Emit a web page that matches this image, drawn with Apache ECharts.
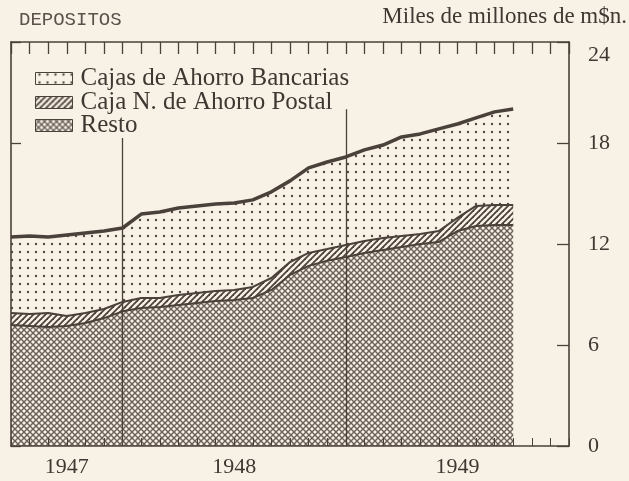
<!DOCTYPE html>
<html lang="es">
<head>
<meta charset="UTF-8">
<title>Depositos</title>
<script src="https://cdn.jsdelivr.net/npm/echarts@6/dist/echarts.min.js"></script>
<style>
    body{margin:0;background:#f8f1e6;}
    #main{width:629px;height:481px;}
</style>
</head>
<body>
<div id="main"></div>
<script>
// limites de mes: 1 jul 1947 .. 1 ene 1950 (31 marcas)
var limites = [];
for (var a = 1947; a <= 1950; a++) {
    for (var m = 1; m <= 12; m++) {
        if ((a === 1947 && m < 7) || (a === 1950 && m > 1)) continue;
        limites.push(a + '-' + (m < 10 ? '0' + m : m));
    }
}
// miles de millones de m$n., un valor por mes (jul 1947 .. oct 1949)
var resto = [7.19,7.13,7.07,7.13,7.31,7.6,8.0,8.2,8.26,8.38,8.5,8.62,8.67,8.79,9.27,10.16,10.7,11.0,11.23,11.47,11.65,11.82,12.0,12.12,12.77,13.07,13.13,13.13];
var postal = [0.71,0.71,0.83,0.59,0.59,0.54,0.56,0.59,0.53,0.59,0.59,0.59,0.6,0.66,0.71,0.77,0.77,0.7,0.71,0.71,0.71,0.66,0.6,0.65,0.78,1.19,1.19,1.19];
var bancarias = [4.52,4.64,4.52,4.82,4.76,4.63,4.39,4.99,5.11,5.17,5.17,5.17,5.17,5.17,5.12,4.82,5.05,5.17,5.23,5.41,5.52,5.88,5.94,6.07,5.58,5.23,5.53,5.7];

var yearPos = [3, 12, 24];
var yearNames = ['1947', '1948', '1949'];
var yearLines = [6, 18];        // 1 enero 1948, 1 enero 1949
var yearLineTop = [18.3, 20.0];

var bg = '#f8f1e6';
var ink = '#4a413a';
var txt = '#3f3832';
var serif = '"Liberation Serif", "DejaVu Serif", serif';

function pattern(size, draw) {
    var c = document.createElement('canvas');
    c.width = c.height = size;
    var ctx = c.getContext('2d');
    ctx.fillStyle = bg;
    ctx.fillRect(0, 0, size, size);
    draw(ctx, size);
    return {image: c, repeat: 'repeat'};
}
var dots = pattern(8, function (ctx) {
    ctx.fillStyle = '#544a42';
    ctx.beginPath();
    ctx.arc(4, 4, 1.2, 0, Math.PI * 2);
    ctx.fill();
});
var hatch = pattern(6, function (ctx, s) {
    ctx.strokeStyle = ink;
    ctx.lineWidth = 1.8;
    [-s, 0, s].forEach(function (o) {
        ctx.beginPath();
        ctx.moveTo(-2 + o, s + 2);
        ctx.lineTo(s + 2 + o, -2);
        ctx.stroke();
    });
});
var cross = pattern(6, function (ctx, s) {
    ctx.strokeStyle = '#6a625b';
    ctx.lineWidth = 1.4;
    [-s, 0, s].forEach(function (o) {
        ctx.beginPath();
        ctx.moveTo(-2 + o, -2);
        ctx.lineTo(s + 2 + o, s + 2);
        ctx.stroke();
        ctx.beginPath();
        ctx.moveTo(-2 + o, s + 2);
        ctx.lineTo(s + 2 + o, -2);
        ctx.stroke();
    });
});

var myChart = echarts.init(document.getElementById('main'));
var option = {
    backgroundColor: bg,
    animation: false,
    title: [{
        text: 'DEPOSITOS', left: 14, top: 5,
        textStyle: {fontFamily: '"Liberation Mono", monospace', fontSize: 19, fontWeight: 'normal', color: '#5a524b'}
    }, {
        text: 'Miles de millones de m$n.', right: 2, top: 5, padding: 0,
        textStyle: {fontFamily: serif, fontSize: 23, fontWeight: 'normal', color: txt}
    }],
    grid: {left: 11, right: 60, top: 42, bottom: 35},
    xAxis: [{
        type: 'category', position: 'bottom', data: limites, boundaryGap: false, z: 3,
        axisLine: {show: true, onZero: false, lineStyle: {color: ink, width: 1.6}},
        axisTick: {show: true, inside: true, interval: 0, length: 8, lineStyle: {color: ink, width: 1}},
        axisLabel: {
            show: true, interval: 0, margin: 10, fontFamily: serif, fontSize: 22, color: txt,
            formatter: function (v, i) { var k = yearPos.indexOf(i); return k < 0 ? '' : yearNames[k]; }
        },
        splitLine: {show: false}
    }, {
        type: 'category', position: 'top', data: limites, boundaryGap: false, z: 3,
        axisLine: {show: true, onZero: false, lineStyle: {color: ink, width: 1.6}},
        axisTick: {show: true, inside: true, interval: 0, length: 12, lineStyle: {color: ink, width: 1.3}},
        axisLabel: {show: false}, splitLine: {show: false}
    }],
    yAxis: [{
        type: 'value', position: 'right', min: 0, max: 24, interval: 6, z: 3,
        axisLine: {show: true, lineStyle: {color: ink, width: 1.6}},
        axisTick: {show: true, inside: true, length: 12, lineStyle: {color: ink, width: 1.3}},
        axisLabel: {
            show: true, margin: 19, fontFamily: serif, fontSize: 22, color: txt,
            formatter: function (v) { return v === 24 ? '{lo|24}' : String(v); },
            rich: {lo: {fontFamily: serif, fontSize: 22, color: txt, padding: [26, 0, 0, 0]}}
        },
        splitLine: {show: false}
    }, {
        // marcas izquierdas, quedan debajo de las areas
        type: 'value', position: 'left', min: 0, max: 24, interval: 6, z: 1,
        axisLine: {show: false},
        axisTick: {show: true, inside: true, length: 10, lineStyle: {color: ink, width: 1.3}},
        axisLabel: {show: false}, splitLine: {show: false}
    }, {
        // borde izquierdo, encima de las areas
        type: 'value', position: 'left', min: 0, max: 24, interval: 6, z: 3,
        axisLine: {show: true, lineStyle: {color: ink, width: 1.6}},
        axisTick: {show: false}, axisLabel: {show: false}, splitLine: {show: false}
    }],
    series: [{
        name: 'Resto', type: 'line', stack: 'dep',
        data: resto, symbol: 'none',
        lineStyle: {color: ink, width: 2},
        areaStyle: {color: cross, opacity: 1},
        markLine: {
            silent: true, symbol: 'none', label: {show: false}, z: 5,
            lineStyle: {color: ink, width: 1.3, type: 'solid'},
            data: yearLines.map(function (x, i) {
                return [{coord: [x, 0]}, {coord: [x, yearLineTop[i]]}];
            })
        }
    }, {
        name: 'Caja N. de Ahorro Postal', type: 'line', stack: 'dep',
        data: postal, symbol: 'none',
        lineStyle: {color: ink, width: 2},
        areaStyle: {color: hatch, opacity: 1}
    }, {
        name: 'Cajas de Ahorro Bancarias', type: 'line', stack: 'dep',
        data: bancarias, symbol: 'none',
        lineStyle: {color: ink, width: 3.5},
        areaStyle: {color: dots, opacity: 1}
    }],
    graphic: [{
        type: 'group', left: 35, top: 66, z: 10,
        children: [
            {type: 'rect', shape: {x: 0, y: 2, width: 37, height: 12}, style: {fill: dots, stroke: ink, lineWidth: 1}},
            {type: 'text', x: 45, y: 8, style: {text: 'Cajas de Ahorro Bancarias', font: '25px ' + serif, fill: txt, verticalAlign: 'middle'}},
            {type: 'rect', shape: {x: 0, y: 26, width: 37, height: 12}, style: {fill: hatch, stroke: ink, lineWidth: 1}},
            {type: 'text', x: 45, y: 32, style: {text: 'Caja N. de Ahorro Postal', font: '25px ' + serif, fill: txt, verticalAlign: 'middle'}},
            {type: 'rect', shape: {x: 0, y: 49, width: 37, height: 12}, style: {fill: cross, stroke: ink, lineWidth: 1}},
            {type: 'text', x: 45, y: 55, style: {text: 'Resto', font: '25px ' + serif, fill: txt, verticalAlign: 'middle'}}
        ]
    }]
};
myChart.setOption(option);
</script>
</body>
</html>
